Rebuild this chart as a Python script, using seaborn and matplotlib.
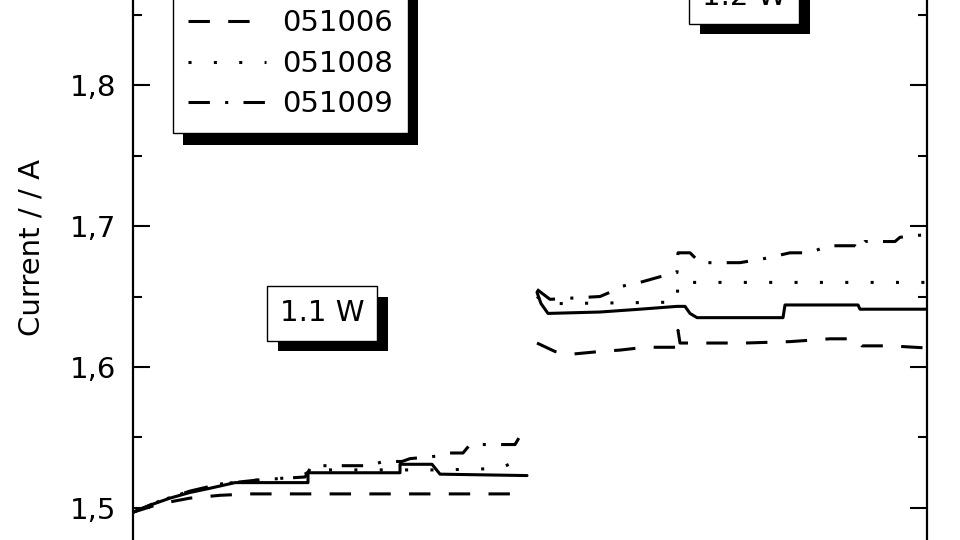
import numpy as np
import pandas as pd
import matplotlib
matplotlib.use("Agg")
import matplotlib.pyplot as plt
import matplotlib.patheffects as pe
import seaborn as sns

# ---------------- data (time in h, current in A) ----------------
series_names = ["051005", "051006", "051008", "051009"]
power_labels = ["1.1 W", "1.2 W"]
ytick_values = [1.5, 1.6, 1.7, 1.8]
ytick_labels = ["1,5", "1,6", "1,7", "1,8"]
yminor_values = [1.55, 1.65, 1.75, 1.85]
ylabel_text = "Current / / A"

# 051005 (solid)
t_051005_a = [0, 8.5, 18.5, 28.5, 38.5, 51, 87.5, 87.5, 133.5, 133.5, 149.5, 153.5, 197]
i_051005_a = [1.497, 1.502, 1.507, 1.511, 1.514, 1.518, 1.518, 1.525, 1.525, 1.531, 1.531, 1.524, 1.523]
t_051005_b = [202, 204, 207.5, 233.5, 253.5, 272, 276, 278.5, 282, 325, 326, 362.5, 363.5, 397]
i_051005_b = [1.653, 1.645, 1.638, 1.639, 1.641, 1.643, 1.643, 1.638, 1.635, 1.635, 1.644, 1.644, 1.641, 1.641]

# 051006 (dashed)
t_051006_a = [0, 13.5, 28.5, 43.5, 58.5, 197]
i_051006_a = [1.497, 1.503, 1.507, 1.509, 1.510, 1.510]
t_051006_b = [202, 211, 218.5, 233.5, 243.5, 256, 272, 272.5, 273.5, 293.5, 306, 328.5, 348.5, 362, 364.5, 378.5, 397]
i_051006_b = [1.617, 1.611, 1.609, 1.611, 1.612, 1.614, 1.614, 1.626, 1.617, 1.617, 1.617, 1.618, 1.620, 1.620, 1.615, 1.615, 1.6135]

# 051008 (dotted)
t_051008_a = [0, 13.5, 28.5, 43.5, 63.5, 83.5, 89.5, 153.5, 183.5, 191, 197]
i_051008_a = [1.497, 1.505, 1.512, 1.517, 1.520, 1.522, 1.527, 1.527, 1.528, 1.533, 1.534]
t_051008_b = [202, 206, 213.5, 272, 272.5, 397]
i_051008_b = [1.650, 1.645, 1.645, 1.646, 1.660, 1.660]

# 051009 (dash-dot)
t_051009_a = [0, 13.5, 28.5, 43.5, 63.5, 86, 89.5, 118.5, 125, 134.5, 138.5, 153.5, 158.5, 165, 168.5, 191, 193.5, 197]
i_051009_a = [1.497, 1.505, 1.512, 1.517, 1.520, 1.522, 1.530, 1.530, 1.533, 1.533, 1.535, 1.537, 1.539, 1.539, 1.545, 1.545, 1.551, 1.551]
t_051009_b = [202, 208.5, 221, 233.5, 238.5, 243.5, 253.5, 263.5, 272, 272.5, 278.5, 283.5, 303.5, 316, 328.5, 338.5, 347.5, 361, 363.5, 366, 381, 383.5, 397]
i_051009_b = [1.655, 1.648, 1.649, 1.650, 1.653, 1.657, 1.660, 1.664, 1.667, 1.681, 1.681, 1.674, 1.674, 1.677, 1.681, 1.681, 1.686, 1.686, 1.683, 1.689, 1.689, 1.692, 1.694]

segments = {
    "051005": [(t_051005_a, i_051005_a), (t_051005_b, i_051005_b)],
    "051006": [(t_051006_a, i_051006_a), (t_051006_b, i_051006_b)],
    "051008": [(t_051008_a, i_051008_a), (t_051008_b, i_051008_b)],
    "051009": [(t_051009_a, i_051009_a), (t_051009_b, i_051009_b)],
}

rows = []
for name in series_names:
    for seg_id, (ts, vs) in enumerate(segments[name]):
        for t, v in zip(ts, vs):
            rows.append({"t": t, "current": v, "series": name, "segment": seg_id})
df = pd.DataFrame(rows)

# ---------------- style ----------------
sns.set_style("ticks")
plt.rcParams["font.family"] = ["DejaVu Sans"]
for key in ["text.color", "axes.labelcolor", "xtick.color", "ytick.color", "axes.edgecolor"]:
    plt.rcParams[key] = "black"

fig = plt.figure(figsize=(9.6, 5.4), dpi=100)
ax = fig.add_axes([133 / 960, 0.0, 794 / 960, 1.0])

dash_map = {"051005": "", "051006": (7, 6), "051008": (1, 7.3), "051009": (7, 5, 1, 5)}

sns.lineplot(data=df, x="t", y="current", style="series", units="segment",
             estimator=None, sort=False, color="black", dashes=dash_map,
             style_order=series_names, linewidth=2.2, ax=ax, legend=True)

ax.set_xlim(0, 397)
ax.set_ylim(1.4773, 1.8603)
ax.set_xlabel("")
ax.set_ylabel("")
ax.set_xticks([])
ax.set_yticks(ytick_values)
ax.set_yticklabels(ytick_labels)
ax.set_yticks(yminor_values, minor=True)
ax.tick_params(axis="y", which="major", direction="in", length=12, width=1.5,
               labelsize=21, pad=12, left=True, right=True, colors="black")
ax.tick_params(axis="y", which="minor", direction="in", length=6.5, width=1.5,
               left=True, right=True, colors="black")
for side in ["top", "bottom"]:
    ax.spines[side].set_visible(False)
for side in ["left", "right"]:
    ax.spines[side].set_visible(True)
    ax.spines[side].set_linewidth(1.6)
    ax.spines[side].set_color("black")

fig.text(31 / 960, 1 - 248 / 540, ylabel_text, rotation=90, ha="center", va="center",
         fontsize=21, color="black")

# legend
handles, labels = ax.get_legend_handles_labels()
pairs = [(h, l) for h, l in zip(handles, labels) if l in series_names]
leg = ax.legend([p[0] for p in pairs], [p[1] for p in pairs],
                loc="lower left", bbox_to_anchor=(173 / 960, 1 - 133 / 540),
                bbox_transform=fig.transFigure, fontsize=21, frameon=True,
                fancybox=False, framealpha=1, edgecolor="black",
                handlelength=2.7, handletextpad=0.55, borderpad=0.5,
                labelspacing=0.43, borderaxespad=0)
leg.get_frame().set_linewidth(1.0)
for h in leg.get_lines():
    h.set_linewidth(2.2)
    h.set_color("black")
for txt in leg.get_texts():
    txt.set_color("black")
leg.get_frame().set_path_effects([
    pe.SimplePatchShadow(offset=(7.5, -8.5), shadow_rgbFace="black", alpha=1.0),
    pe.Normal()])

# power annotations
for label, (tx, ty) in zip(power_labels, [(94.5, 1.638), (305.5, 1.8625)]):
    txt = ax.text(tx, ty, label, ha="center", va="center", fontsize=21, color="black",
                  bbox=dict(boxstyle="square,pad=0.45", fc="white", ec="black", lw=1.0),
                  clip_on=False)
    txt.get_bbox_patch().set_path_effects([
        pe.SimplePatchShadow(offset=(8, -7.5), shadow_rgbFace="black", alpha=1.0),
        pe.Normal()])

fig.savefig("out.png", dpi=100)
